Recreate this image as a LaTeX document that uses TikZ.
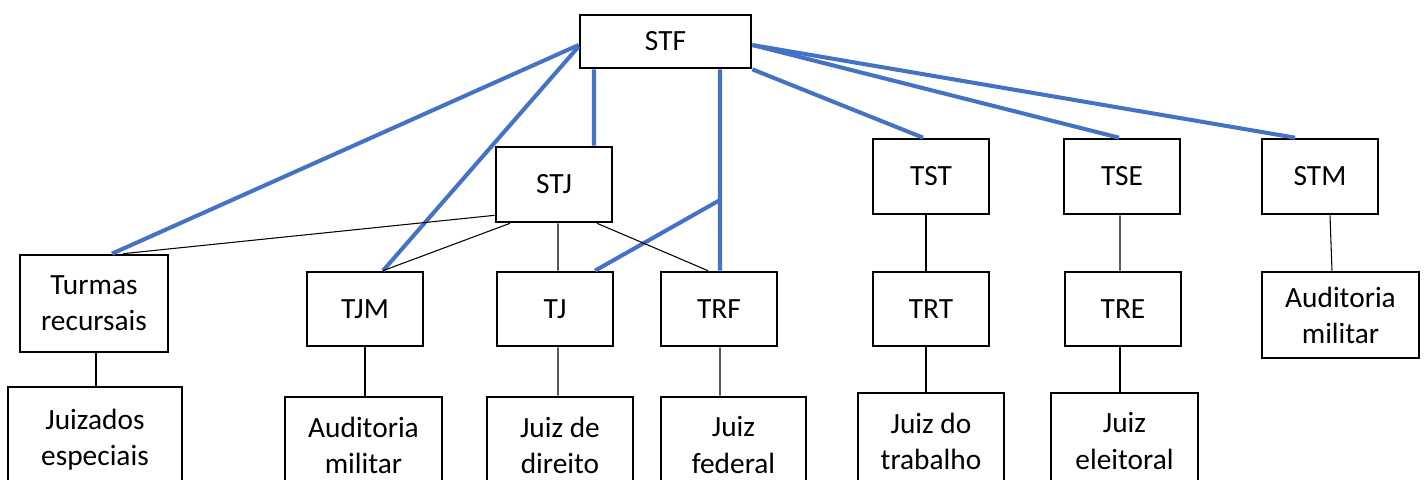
\documentclass[tikz,border=0pt]{standalone}
\usepackage{fontspec}
\setmainfont{Carlito}
\definecolor{linkblue}{HTML}{4472C4}
\begin{document}
\begin{tikzpicture}[
    court/.style 2 args={draw, line width=1.5pt, minimum width=#1cm, minimum height=#2cm,
      align=center, inner sep=0pt, font=\fontsize{16.7}{20.5}\selectfont},
    link/.style={linkblue, line width=2.3pt},
    sub/.style={black, line width=0.6pt}]
      \clip (0,0) rectangle (28.54,9.58);
      \draw
        (13.31,8.75) node[court={3.42}{1.06}] (stf){STF}
        (11.08,5.89) node[court={2.32}{1.50}] (stj){STJ}
        (18.62,6.05) node[court={2.32}{1.50}] (tst){TST}
        (22.44,6.05) node[court={2.32}{1.50}] (tse){TSE}
        (26.40,6.05) node[court={2.32}{1.50}] (stm){STM}
        (1.88,3.51) node[court={2.96}{1.94}] (turmas){Turmas\\recursais}
        (7.30,3.40) node[court={2.32}{1.48}] (tjm){TJM}
        (11.10,3.40) node[court={2.32}{1.48}] (tj){TJ}
        (14.38,3.40) node[court={2.32}{1.48}] (trf){TRF}
        (18.62,3.40) node[court={2.32}{1.48}] (trt){TRT}
        (22.46,3.40) node[court={2.32}{1.48}] (tre){TRE}
        (26.81,3.28) node[court={3.14}{1.72}] (audstm){Auditoria\\militar}
        (1.90,0.78) node[court={3.48}{2.12}] (juizados){Juizados\\especiais}
        (7.27,0.68) node[court={3.14}{1.92}] (audtjm){Auditoria\\militar}
        (11.20,0.68) node[court={2.92}{1.92}] (jdireito){Juiz de\\direito}
        (14.67,0.68) node[court={2.90}{1.92}] (jfederal){Juiz\\federal}
        (18.62,0.76) node[court={2.92}{1.92}] (jtrabalho){Juiz do\\trabalho}
        (22.49,0.76) node[court={2.94}{1.92}] (jeleitoral){Juiz\\eleitoral};
      \coordinate (fork) at (14.40,5.58);
      % STF links
      \begin{scope}[link]
        \draw ([yshift=-0.07cm]stf.west) to ([xshift=0.36cm]turmas.north);
        \draw ([yshift=-0.1cm]stf.west) to ([xshift=0.36cm]tjm.north);
        \draw ([xshift=-1.43cm]stf.south) to ([xshift=0.8cm]stj.north);
        \draw ([xshift=1.09cm]stf.south) to ([xshift=0.02cm]trf.north);
        \draw (fork) to ([xshift=0.8cm]tj.north);
        \draw (stf.south east) to ([xshift=-0.16cm]tst.north);
        \draw ([yshift=-0.07cm]stf.east) to ([xshift=-0.06cm]tse.north);
        \draw ([yshift=-0.07cm]stf.east) to ([xshift=-0.5cm]stm.north);
      \end{scope}
      % lower courts
      \begin{scope}[sub]
        \draw ([yshift=0.16cm]stj.south west) to ([xshift=0.58cm]turmas.north);
        \draw ([xshift=-0.88cm]stj.south) to ([xshift=0.36cm]tjm.north);
        \draw ([xshift=0.08cm]stj.south) to ([xshift=0.06cm]tj.north);
        \draw ([xshift=0.86cm]stj.south) to ([xshift=-0.22cm]trf.north);
        \draw ([xshift=0.04cm]turmas.south) to ([xshift=0.02cm]juizados.north);
        \draw (tjm.south) to ([xshift=0.03cm]audtjm.north);
        \draw ([xshift=0.06cm]tj.south) to ([xshift=-0.04cm]jdireito.north);
        \draw ([xshift=0.02cm]trf.south) to ([xshift=-0.27cm]jfederal.north);
        \draw ([xshift=-0.1cm]tst.south) to ([xshift=-0.1cm]trt.north);
        \draw ([xshift=-0.1cm]trt.south) to ([xshift=-0.1cm]jtrabalho.north);
        \draw ([xshift=-0.04cm]tse.south) to ([xshift=-0.06cm]tre.north);
        \draw ([xshift=-0.06cm]tre.south) to ([xshift=-0.09cm]jeleitoral.north);
        \draw ([xshift=0.2cm]stm.south) to ([xshift=-0.17cm]audstm.north);
      \end{scope}
    \end{tikzpicture}
\end{document}
